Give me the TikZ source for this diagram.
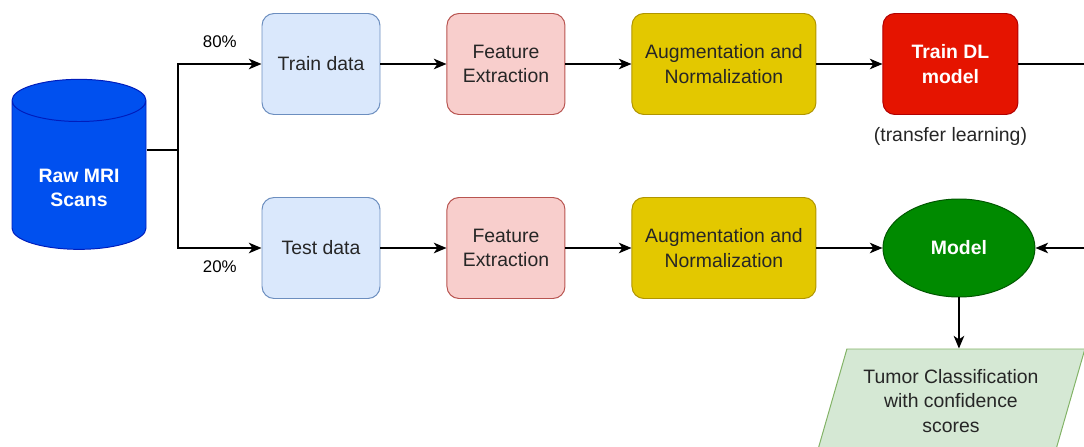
\documentclass[tikz,border=0pt]{standalone}
\usepackage{fontspec}
\setmainfont{Liberation Sans}
\usetikzlibrary{positioning,shapes.geometric,arrows.meta}

\definecolor{scanfill}{HTML}{0050EF}
\definecolor{scandraw}{HTML}{001DBC}
\definecolor{datafill}{HTML}{DAE8FC}
\definecolor{datadraw}{HTML}{6C8EBF}
\definecolor{featfill}{HTML}{F8CECC}
\definecolor{featdraw}{HTML}{B85450}
\definecolor{augfill}{HTML}{E3C800}
\definecolor{augdraw}{HTML}{B09500}
\definecolor{dlfill}{HTML}{E51400}
\definecolor{dldraw}{HTML}{B20000}
\definecolor{modelfill}{HTML}{008A00}
\definecolor{modeldraw}{HTML}{005700}
\definecolor{outfill}{HTML}{D5E8D4}
\definecolor{outdraw}{HTML}{82B366}

\begin{document}
\begin{tikzpicture}[auto,node distance=1.65cm,
  >={Stealth[length=9pt,width=7.5pt,inset=2.5pt]},line width=1.1pt,
  box/.style={rectangle,rounded corners=0.3cm,draw,line width=0.7pt,
    minimum height=2.525cm,align=center,text=black!85,
    font=\fontsize{13.8}{17.5}\selectfont},
  data node/.style={box,minimum width=2.95cm,fill=datafill,draw=datadraw},
  feat node/.style={box,minimum width=2.95cm,fill=featfill,draw=featdraw},
  aug node/.style={box,minimum width=4.6cm,fill=augfill,draw=augdraw},
  dl node/.style={box,minimum width=3.375cm,fill=dlfill,draw=dldraw,
    text=white,font=\fontsize{13.8}{17.5}\selectfont\bfseries},
  model node/.style={ellipse,draw=modeldraw,fill=modelfill,line width=0.7pt,
    minimum width=3.8cm,minimum height=2.45cm,inner sep=0pt,text=white,
    font=\fontsize{13.8}{17.5}\selectfont\bfseries},
  out node/.style={trapezium,trapezium left angle=70,trapezium right angle=110,
    trapezium stretches=true,draw=outdraw,fill=outfill,line width=0.7pt,
    minimum width=6.7cm,minimum height=2.6cm,align=center,text=black!85,
    font=\fontsize{13.8}{17.5}\selectfont},
  scan node/.style={cylinder,shape border rotate=90,aspect=4.5,
    draw=scandraw,fill=scanfill,line width=0.7pt,
    minimum width=3.35cm,minimum height=4.25cm}]

  \useasboundingbox (0,0) rectangle (27.1,-11.175);
  \clip (0,0) rectangle (27.1,-11.175);

  \node[scan node] (scans) at (1.975,-4.475) {};
  \node[text=white,align=center,font=\fontsize{13.8}{17.5}\selectfont\bfseries]
    (scanstext) at (1.975,-4.7) {Raw MRI\\Scans};

  \node[data node] (train) at (8.025,-1.6) {Train data};
  \node[data node] (test) at (8.025,-6.2) {Test data};
  \node[feat node] (feat1) [right=of train] {Feature\\Extraction};
  \node[feat node] (feat2) [right=of test] {Feature\\Extraction};
  \node[aug node] (aug1) [right=of feat1] {Augmentation and\\Normalization};
  \node[aug node] (aug2) [right=of feat2] {Augmentation and\\Normalization};
  \node[dl node] (dl) [right=of aug1,
    label={[text=black!85,font=\fontsize{13.8}{16}\selectfont,label distance=5pt]below:(transfer learning)}]
    {Train DL\\model};
  \node[model node] (model) [right=of aug2] {Model};
  \node[out node] (out) [below=1.275cm of model,xshift=-0.2cm]
    {Tumor Classification\\with confidence\\scores};

  \coordinate (split) at (4.45,-3.75);
  \coordinate (edgeR) at (27.1,0);

  % split of the scans
  \draw (scans.east |- split) -- (split);
  \draw[->] (split) |- node[pos=0.75,above=8pt,font=\fontsize{12}{14}\selectfont] {80\%} (train);
  \draw[->] (split) |- node[pos=0.75,below=5pt,font=\fontsize{12}{14}\selectfont] {20\%} (test);

  \path[->]
    (train) edge (feat1)
    (feat1) edge (aug1)
    (aug1) edge (dl)
    (test) edge (feat2)
    (feat2) edge (aug2)
    (aug2) edge (model);

  \draw (dl) -- (dl -| edgeR);
  \draw[->] (test -| edgeR) -- (model);
  \draw[->] (model) -- (model.south |- out.north);

\end{tikzpicture}
\end{document}
